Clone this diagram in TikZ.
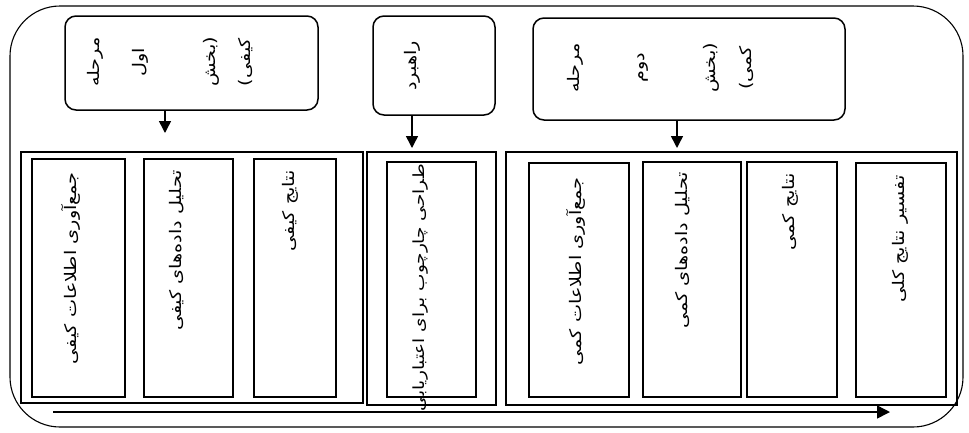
\documentclass[tikz,border=0pt]{standalone}
\usepackage{fontspec}
\usetikzlibrary{arrows.meta}
\TeXXeTstate=1
\newfontfamily\arabicfont[Script=Arabic,FakeStretch=1.2]{DejaVu Sans}
\newcommand{\fa}[1]{\arabicfont\beginR #1\endR}
\tikzset{
  frame/.style={draw, line width=1.1pt, rounded corners=50pt, inner sep=0, outer sep=0},
  topbox/.style={draw, line width=1.5pt, rounded corners=11pt, inner sep=0, outer sep=0},
  grp/.style={draw, line width=1.5pt, inner sep=0, outer sep=0},
  inbox/.style={draw, line width=1.5pt, inner sep=0, outer sep=0},
  vword/.style={rotate=90, inner sep=0, font=\fontsize{16}{18}\selectfont},
  vtext/.style={rotate=90, anchor=east, inner sep=0, font=\fontsize{16}{18}\selectfont},
  arr/.style={line width=1.5pt, -{Triangle[width=12pt,length=12pt]}},
}
\begin{document}
\begin{tikzpicture}[x=1pt,y=-1pt]
\useasboundingbox (0,0) rectangle (969,432);
% outer frame
\node[frame, minimum width=953, minimum height=421] (frame) at (486.5,216.5) {};
% top boxes
\node[topbox, minimum width=253, minimum height=94] (t1) at (191.5,63) {};
\node[topbox, minimum width=122, minimum height=99] (t2) at (434,65.5) {};
\node[topbox, minimum width=312, minimum height=102] (t3) at (689,69) {};
\node[vword] (t1a) at (95,62) {\fa{مرحله}};
\node[vword] (t1b) at (140,62) {\fa{اول}};
\node[vword] (t1c) at (211,62) {\fa{(بخش}};
\node[vword] (t1d) at (246,62) {\fa{کیفی)}};
\node[vword] (t2a) at (412,66) {\fa{راهبرد}};
\node[vword] (t3a) at (575,68) {\fa{مرحله}};
\node[vword] (t3b) at (643,68) {\fa{دوم}};
\node[vword] (t3c) at (711,68) {\fa{(بخش}};
\node[vword] (t3d) at (746,68) {\fa{کمی)}};
% group boxes
\node[grp, minimum width=342, minimum height=251] (g1) at (192,277.5) {};
\node[grp, minimum width=129, minimum height=253] (g2) at (431.5,278.5) {};
\node[grp, minimum width=451, minimum height=253] (g3) at (731.5,278.5) {};
% inner boxes
\node[inbox, minimum width=93, minimum height=238] (b1) at (78.5,278) {};
\node[inbox, minimum width=89, minimum height=238] (b2) at (188.5,278) {};
\node[inbox, minimum width=82, minimum height=238] (b3) at (295,278) {};
\node[inbox, minimum width=89, minimum height=235] (m1) at (431.5,279.5) {};
\node[inbox, minimum width=100, minimum height=234] (c1) at (579,280) {};
\node[inbox, minimum width=98, minimum height=235] (c2) at (692,279.5) {};
\node[inbox, minimum width=90, minimum height=235] (c3) at (792,279.5) {};
\node[inbox, minimum width=90, minimum height=234] (c4) at (901,280) {};
% texts
\node[vtext] (b1t) at (71,172) {\fa{جمع‌آوری اطلاعات کیفی}};
\node[vtext] (b2t) at (177,170) {\fa{تحلیل داده‌های کیفی}};
\node[vtext] (b3t) at (290,170) {\fa{نتایج کیفی}};
\node[vtext, font=\fontsize{15.4}{17}\selectfont] (m1t) at (421,164) {\fa{طراحی چارچوب برای اعتباریابی}};
\node[vtext] (c1t) at (576,177) {\fa{جمع‌آوری اطلاعات کمی}};
\node[vtext] (c2t) at (683,172) {\fa{تحلیل داده‌های کمی}};
\node[vtext] (c3t) at (790,173) {\fa{نتایج کمی}};
\node[vtext] (c4t) at (900,175) {\fa{تفسیر نتایج کلی}};
% arrows
\coordinate (x1) at (165,0);
\coordinate (x2) at (412,0);
\coordinate (x3) at (677,0);
\draw[arr, shorten >=19pt] (t1.south -| x1) -- (g1.north -| x1);
\draw[arr, shorten >=4pt] (t2.south -| x2) -- (g2.north -| x2);
\draw[arr, shorten >=4pt] (t3.south -| x3) -- (g3.north -| x3);
\coordinate (s) at (53,412);
\coordinate (e) at (890,412);
\draw[arr, -{Triangle[width=13pt,length=13pt]}] (s) -- (e);
\end{tikzpicture}
\end{document}
